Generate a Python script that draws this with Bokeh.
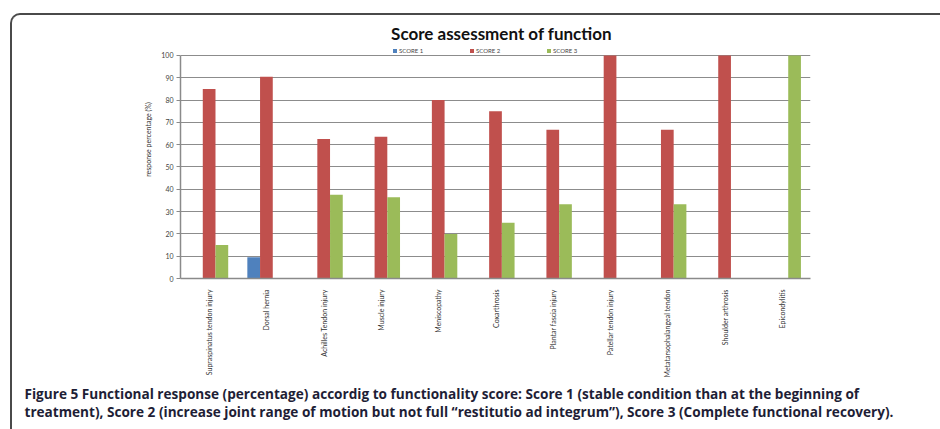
import math
from bokeh.plotting import figure
from bokeh.models import (ColumnDataSource, FactorRange, FixedTicker, Legend, Range1d,
                          LegendItem, Title, Label, InlineStyleSheet)
from bokeh.transform import dodge
from bokeh.embed import file_html
from bokeh.resources import INLINE

categories = ["Supraspinatus tendon injury", "Dorsal hernia", "Achilles Tendon injury",
              "Muscle injury", "Meniscopathy", "Coxarthrosis", "Plantar fascia injury",
              "Patellar tendon injury", "Metatarsophalangeal tendon", "Shoulder arthrosis",
              "Epicondylitis"]
score1 = [0, 9.5, 0, 0, 0, 0, 0, 0, 0, 0, 0]
score2 = [85, 90.5, 62.5, 63.6, 80, 75, 66.7, 100, 66.7, 100, 0]
score3 = [15, 0, 37.5, 36.4, 20, 25, 33.3, 0, 33.3, 0, 100]
y_ticks = [0, 10, 20, 30, 40, 50, 60, 70, 80, 90, 100]
series_names = ["SCORE 1", "SCORE 2", "SCORE 3"]
colors = ["#4F81BD", "#C0504D", "#9BBB59"]

title_text = "Score assessment of function"
y_label = "response percentage (%)"
caption1 = ("Figure 5 Functional response (percentage) accordig to functionality score: "
            "Score 1 (stable condition than at the beginning of")
caption2 = ("treatment), Score 2 (increase joint range of motion but not full "
            "\u201crestitutio ad integrum\u201d), Score 3 (Complete functional recovery).")

src = ColumnDataSource(dict(cat=categories, s1=score1, s2=score2, s3=score3))

frame_css = InlineStyleSheet(css="""
:host::after {
  content: ''; position: absolute; left: 10px; top: 13px; width: 930px; height: 416px;
  box-sizing: border-box;
  border-left: 2.5px solid #4a4a4a; border-top: 2.5px solid #4a4a4a;
  border-top-left-radius: 10px; z-index: 20; pointer-events: none;
}
""")

# frame spans the full top of the canvas so title/legend sit inside it
p = figure(width=940, height=429, x_range=FactorRange(*categories),
           y_range=Range1d(0, 124.66),
           output_backend="svg", toolbar_location=None, title=None,
           min_border_left=180, min_border_right=130, min_border_top=0,
           min_border_bottom=151)
p.stylesheets = [frame_css]
p.x_range.range_padding = 0
p.outline_line_color = None
p.background_fill_color = "white"
p.border_fill_color = "white"

renderers = []
for key, off, col in zip(["s1", "s2", "s3"], [-0.222, 0.0, 0.222], colors):
    r = p.vbar(x=dodge("cat", off, range=p.x_range), top=key, width=0.222, source=src,
               fill_color=col, line_color=None)
    renderers.append(r)

# axes
p.yaxis.ticker = FixedTicker(ticks=y_ticks)
p.ygrid.ticker = FixedTicker(ticks=y_ticks)
p.yaxis.bounds = (0, 100)
p.yaxis.axis_line_color = "#8a8a8a"
p.yaxis.axis_line_width = 1.5
p.yaxis.major_tick_line_color = "#8a8a8a"
p.yaxis.major_tick_out = 4
p.yaxis.major_tick_in = 0
p.yaxis.minor_tick_line_color = None
p.yaxis.major_label_text_font = "Lato"
p.yaxis.major_label_text_font_size = "7px"
p.yaxis.major_label_text_color = "#444444"
p.yaxis.major_label_standoff = 3
p.yaxis.axis_label = y_label
p.yaxis.axis_label_text_font = "Lato"
p.yaxis.axis_label_text_font_size = "7px"
p.yaxis.axis_label_text_font_style = "normal"
p.yaxis.axis_label_text_color = "#333333"
p.yaxis.axis_label_standoff = 6

p.xaxis.axis_line_color = "#8a8a8a"
p.xaxis.axis_line_width = 1.5
p.xaxis.major_tick_line_color = None
p.xaxis.major_label_orientation = math.pi / 2
p.xaxis.major_label_text_font = "Lato"
p.xaxis.major_label_text_font_size = "7px"
p.xaxis.major_label_text_color = "#333333"
p.xaxis.major_label_standoff = 5

p.xgrid.grid_line_color = None
p.ygrid.grid_line_color = "#8c8c8c"
p.ygrid.grid_line_width = 1

# title (inside the extended frame, above the 100 line)
p.add_layout(Label(x=321, y=245, x_units="screen", y_units="screen", text=title_text,
                   text_align="center", text_baseline="middle", text_font="Lato",
                   text_font_size="17px", text_font_style="bold", text_color="#111111"))

# legend
legend = Legend(items=[LegendItem(label=n, renderers=[r]) for n, r in zip(series_names, renderers)],
                orientation="horizontal", location=(212, 224), glyph_width=5, glyph_height=5,
                label_text_font="Lato", label_text_font_size="6px", label_standoff=2,
                label_width=70, label_height=5, spacing=0, padding=0, margin=0,
                border_line_color=None, background_fill_alpha=0)
p.add_layout(legend, "center")

# caption (two lines)
p.add_layout(Title(text=caption1 + "\n" + caption2, align="left", offset=-156,
                   text_font="Open Sans", text_font_size="13.6px", text_font_style="bold",
                   text_color="#1e1e36", text_line_height=0.96, standoff=4), "below")

open("out.html", "w").write(file_html(p, INLINE))
